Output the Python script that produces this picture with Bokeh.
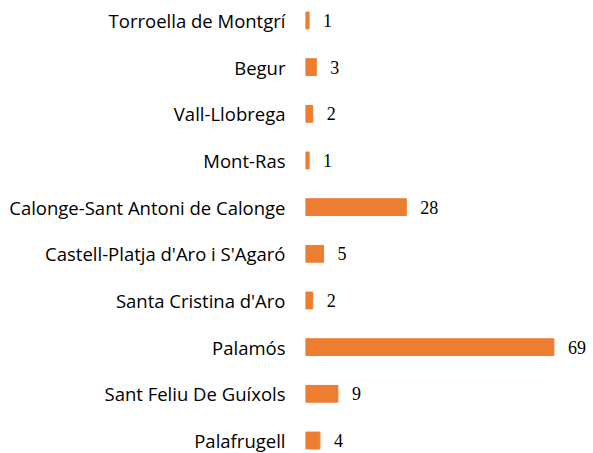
from bokeh.plotting import figure
from bokeh.models import Range1d, FixedTicker, ColumnDataSource, LabelSet
from bokeh.embed import file_html
from bokeh.resources import INLINE

# Data (bottom to top)
municipis = ["Palafrugell", "Sant Feliu De Guíxols", "Palamós", "Santa Cristina d'Aro",
             "Castell-Platja d'Aro i S'Agaró", "Calonge-Sant Antoni de Calonge",
             "Mont-Ras", "Vall-Llobrega", "Begur", "Torroella de Montgrí"]
valors = [4, 9, 69, 2, 5, 28, 1, 2, 3, 1]

ypos = list(range(len(municipis)))
src = ColumnDataSource(dict(y=ypos, v=valors, lbl=[str(v) for v in valors]))

p = figure(width=593, height=453, output_backend="svg", toolbar_location=None,
           x_range=Range1d(0, 80.0), y_range=Range1d(-0.279, 9.428),
           min_border_left=305, min_border_right=0, min_border_top=0, min_border_bottom=0)

p.hbar(y="y", right="v", left=0, height=0.36, source=src, color="#ED7D31")
p.add_layout(LabelSet(x="v", y="y", text="lbl", source=src, x_offset=14, y_offset=0,
                      text_baseline="middle", text_font="Open Sans", text_font_size="18px",
                      text_color="#000000"))

p.xaxis.visible = False
p.yaxis.ticker = FixedTicker(ticks=ypos)
p.yaxis.major_label_overrides = {i: m for i, m in enumerate(municipis)}
p.yaxis.axis_line_color = None
p.yaxis.major_tick_line_color = None
p.yaxis.minor_tick_line_color = None
p.yaxis.major_label_standoff = 14
p.yaxis.major_label_text_font = "Open Sans"
p.yaxis.major_label_text_font_size = "18.5px"
p.yaxis.major_label_text_color = "#000000"
p.xgrid.visible = False
p.ygrid.visible = False
p.outline_line_color = None

open("out.html", "w").write(file_html(p, INLINE))
